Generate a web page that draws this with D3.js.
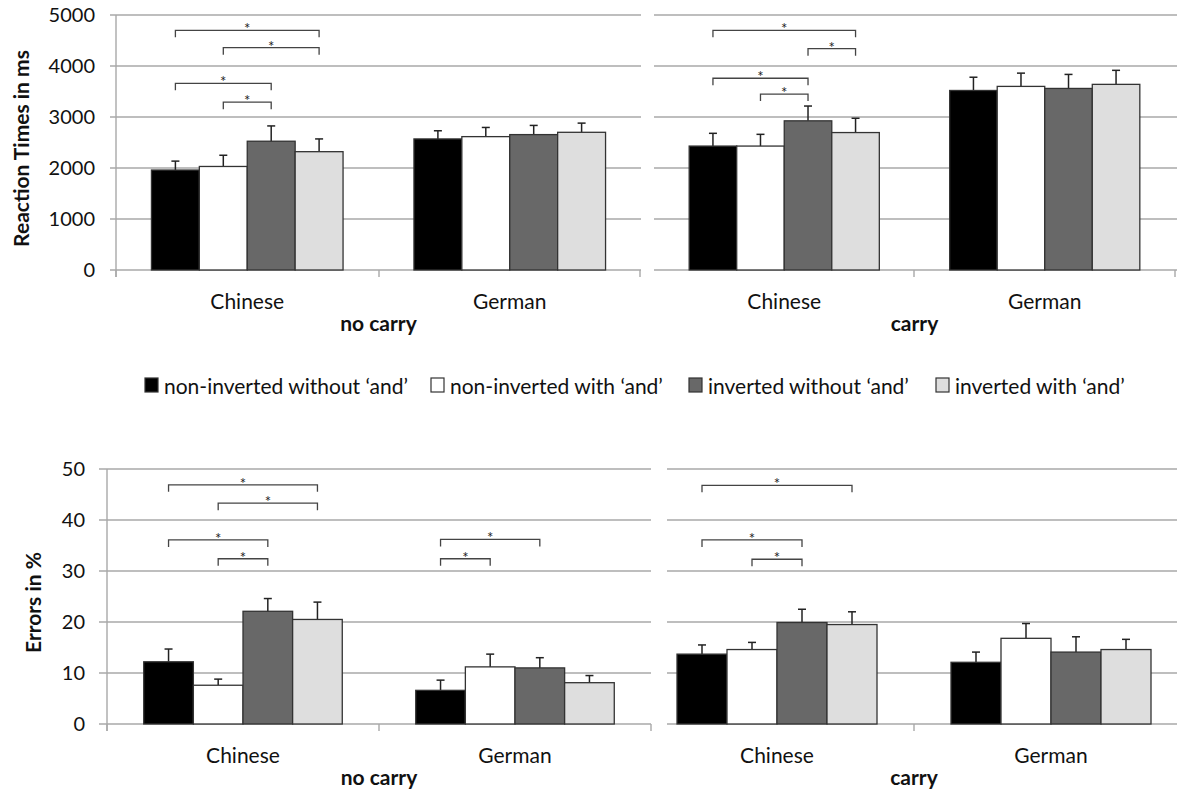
<!DOCTYPE html>
<html>
<head>
<meta charset="utf-8">
<script src="https://cdn.jsdelivr.net/npm/d3@7"></script>
<style>
  body { margin: 0; background: #fff; }
  svg { display: block; font-family: Lato, "Open Sans", sans-serif; }
</style>
</head>
<body>
<div id="wrapper"></div>
<script>
// series, languages and conditions
const series = ["non-inverted without \u2018and\u2019", "non-inverted with \u2018and\u2019",
                "inverted without \u2018and\u2019", "inverted with \u2018and\u2019"];
const colors = ["#000000", "#ffffff", "#686868", "#dedede"];
const languages = ["Chinese", "German"];

// reaction times (ms), [Chinese, German] x 4 series
const rtNoCarry = [[1960, 2030, 2525, 2320], [2570, 2615, 2655, 2700]];
const rtNoCarryErr = [[175, 220, 300, 250], [160, 180, 180, 180]];
const rtCarry = [[2430, 2430, 2925, 2695], [3520, 3600, 3560, 3640]];
const rtCarryErr = [[250, 230, 290, 280], [260, 260, 275, 275]];
const rtTicks = [0, 1000, 2000, 3000, 4000, 5000];

// errors (%)
const errNoCarry = [[12.2, 7.6, 22.1, 20.5], [6.6, 11.2, 11.0, 8.1]];
const errNoCarrySE = [[2.5, 1.2, 2.5, 3.4], [2.0, 2.5, 2.0, 1.4]];
const errCarry = [[13.7, 14.6, 19.9, 19.5], [12.1, 16.8, 14.1, 14.6]];
const errCarrySE = [[1.8, 1.4, 2.6, 2.5], [2.0, 2.9, 3.0, 2.0]];
const errTicks = [0, 10, 20, 30, 40, 50];

// significance brackets: [language, from series, to series, height]
const sigRtNoCarry = [[0, 0, 3, 4700], [0, 1, 3, 4360], [0, 0, 2, 3660], [0, 1, 2, 3290]];
const sigRtCarry = [[0, 0, 3, 4700], [0, 2, 3, 4340], [0, 0, 2, 3760], [0, 1, 2, 3450]];
const sigErrNoCarry = [[0, 0, 3, 46.9], [0, 1, 3, 43.3], [0, 0, 2, 36.1], [0, 1, 2, 32.4],
                       [1, 0, 2, 36.2], [1, 0, 1, 32.4]];
const sigErrCarry = [[0, 0, 3, 46.8], [0, 0, 2, 36.1], [0, 1, 2, 32.3]];

const width = 1177;
const height = 789;
const gridColor = "#a8a8a8";

const svg = d3.select("#wrapper")
  .append("svg")
  .attr("width", width)
  .attr("height", height);

// one panel = one condition of one measure
const drawPanel = (p) => {
  const g = svg.append("g");

  const y = d3.scaleLinear().domain(p.domain).range([p.bottom, p.top]);
  const x0 = d3.scaleBand().domain(languages).range(p.xRange);
  const x1 = d3.scaleBand().domain(d3.range(series.length))
    .range([0, x0.bandwidth()]).paddingOuter(0.74);

  // gridlines
  g.selectAll("line.grid")
    .data(p.ticks)
    .join("line")
    .attr("class", "grid")
    .attr("x1", p.gridFrom).attr("x2", p.gridTo)
    .attr("y1", d => y(d)).attr("y2", d => y(d))
    .attr("stroke", gridColor).attr("stroke-width", 1.4);

  // y axis line and labels (left panels only)
  if (p.yAxis) {
    g.append("line")
      .attr("x1", p.xRange[0]).attr("x2", p.xRange[0])
      .attr("y1", y(p.domain[1])).attr("y2", p.bottom + 7)
      .attr("stroke", gridColor).attr("stroke-width", 1.4);

    g.selectAll("text.ytick")
      .data(p.ticks)
      .join("text")
      .attr("class", "ytick")
      .attr("x", p.labelX)
      .attr("y", d => y(d))
      .attr("dy", "0.36em")
      .attr("text-anchor", "end")
      .attr("font-size", 20)
      .attr("fill", "#111")
      .text(d => d);

    g.append("text")
      .attr("transform", `translate(${p.titleX}, ${(p.top + p.bottom) / 2 + 6}) rotate(-90)`)
      .attr("text-anchor", "middle")
      .attr("font-size", 21)
      .attr("font-weight", "bold")
      .attr("fill", "#111")
      .text(p.yTitle);
  }

  // category ticks under the x axis
  g.selectAll("line.xtick")
    .data(p.xTicks)
    .join("line")
    .attr("class", "xtick")
    .attr("x1", d => d).attr("x2", d => d)
    .attr("y1", p.bottom).attr("y2", p.bottom + 7)
    .attr("stroke", gridColor).attr("stroke-width", 1.4);

  const rows = [];
  p.values.forEach((vals, li) => vals.forEach((v, si) => {
    rows.push({ lang: languages[li], s: si, v: v, e: p.errors[li][si] });
  }));

  // error bars (upper only)
  const eb = g.append("g").attr("stroke", "#222").attr("stroke-width", 1.5);
  eb.selectAll("line.stem")
    .data(rows)
    .join("line")
    .attr("x1", d => x0(d.lang) + x1(d.s) + x1.bandwidth() / 2)
    .attr("x2", d => x0(d.lang) + x1(d.s) + x1.bandwidth() / 2)
    .attr("y1", d => y(d.v)).attr("y2", d => y(d.v + d.e));
  eb.selectAll("line.cap")
    .data(rows)
    .join("line")
    .attr("x1", d => x0(d.lang) + x1(d.s) + x1.bandwidth() / 2 - 4)
    .attr("x2", d => x0(d.lang) + x1(d.s) + x1.bandwidth() / 2 + 4)
    .attr("y1", d => y(d.v + d.e)).attr("y2", d => y(d.v + d.e));

  // bars
  g.selectAll("rect")
    .data(rows)
    .join("rect")
    .attr("x", d => x0(d.lang) + x1(d.s))
    .attr("y", d => y(d.v))
    .attr("width", x1.bandwidth())
    .attr("height", d => y(0) - y(d.v))
    .attr("fill", d => colors[d.s])
    .attr("stroke", "#333")
    .attr("stroke-width", 1.3);

  // significance brackets
  const cx = (li, si) => x0(languages[li]) + x1(si) + x1.bandwidth() / 2;
  const br = g.append("g");
  p.sig.forEach(([li, a, b, h]) => {
    const xa = cx(li, a), xb = cx(li, b), yy = y(h);
    br.append("path")
      .attr("d", `M${xa},${yy + 7}V${yy}H${xb}V${yy + 7}`)
      .attr("fill", "none").attr("stroke", "#444").attr("stroke-width", 1.3);
    br.append("text")
      .attr("x", (xa + xb) / 2).attr("y", yy + 4)
      .attr("text-anchor", "middle").attr("font-size", 15).attr("fill", "#222")
      .text("*");
  });

  // category labels
  g.selectAll("text.cat")
    .data(languages)
    .join("text")
    .attr("class", "cat")
    .attr("x", d => x0(d) + x0.bandwidth() / 2)
    .attr("y", p.bottom + 39)
    .attr("text-anchor", "middle")
    .attr("font-size", 21)
    .attr("fill", "#111")
    .text(d => d);

  g.append("text")
    .attr("x", x0.range()[0] + x0.bandwidth())
    .attr("y", p.bottom + 61)
    .attr("text-anchor", "middle")
    .attr("font-size", 21)
    .attr("font-weight", "bold")
    .attr("fill", "#111")
    .text(p.condition);
};

// top row: reaction times
drawPanel({ domain: [0, 5000], ticks: rtTicks, top: 15, bottom: 270,
  xRange: [116, 641], gridFrom: 110, gridTo: 641, xTicks: [116, 379, 640],
  values: rtNoCarry, errors: rtNoCarryErr, sig: sigRtNoCarry, condition: "no carry",
  yAxis: true, labelX: 95, titleX: 29, yTitle: "Reaction Times in ms" });
drawPanel({ domain: [0, 5000], ticks: rtTicks, top: 15, bottom: 270,
  xRange: [654, 1175], gridFrom: 654, gridTo: 1177, xTicks: [914, 1175],
  values: rtCarry, errors: rtCarryErr, sig: sigRtCarry, condition: "carry",
  yAxis: false });

// bottom row: errors
drawPanel({ domain: [0, 50], ticks: errTicks, top: 469, bottom: 724,
  xRange: [107, 651], gridFrom: 99, gridTo: 651, xTicks: [107, 379, 651],
  values: errNoCarry, errors: errNoCarrySE, sig: sigErrNoCarry, condition: "no carry",
  yAxis: true, labelX: 85, titleX: 41, yTitle: "Errors in %" });
drawPanel({ domain: [0, 50], ticks: errTicks, top: 469, bottom: 724,
  xRange: [640, 1188], gridFrom: 667, gridTo: 1177, xTicks: [914],
  values: errCarry, errors: errCarrySE, sig: sigErrCarry, condition: "carry",
  yAxis: false });

// legend
const legendX = [145, 431, 689, 936];
const legend = svg.append("g").attr("font-size", 21).attr("fill", "#111");
legend.selectAll("rect")
  .data(series)
  .join("rect")
  .attr("x", (d, i) => legendX[i]).attr("y", 378)
  .attr("width", 13).attr("height", 14)
  .attr("fill", (d, i) => colors[i])
  .attr("stroke", "#333").attr("stroke-width", 1.2);
legend.selectAll("text")
  .data(series)
  .join("text")
  .attr("x", (d, i) => legendX[i] + 19).attr("y", 394)
  .text(d => d);
</script>
</body>
</html>
